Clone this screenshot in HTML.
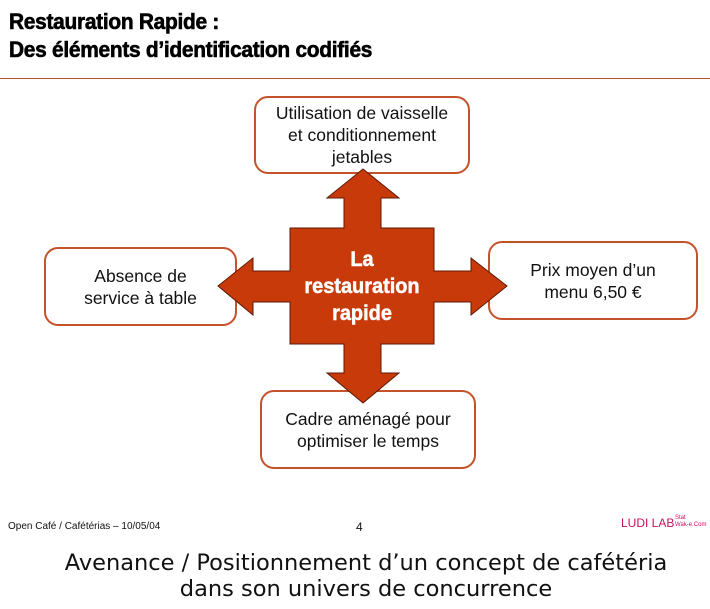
<!DOCTYPE html>
<html><head><meta charset="utf-8"><style>
html,body{margin:0;padding:0;background:#fff}
body{width:710px;height:609px;position:relative;overflow:hidden;font-family:"Liberation Sans",sans-serif}
.t{position:absolute;left:9px;font-weight:bold;font-size:22px;color:#000;transform-origin:0 0;transform:scaleX(0.95);white-space:nowrap;letter-spacing:-0.3px;-webkit-text-stroke:0.6px #000}
.box{position:absolute;border:2px solid #c4532c;border-radius:14px;background:#fff;display:flex;align-items:center;justify-content:center;text-align:center;font-size:17.5px;line-height:22px;color:#111;box-sizing:border-box}
</style></head><body>
<div class="t" style="top:9px">Restauration Rapide :</div>
<div class="t" style="top:37px">Des éléments d’identification codifiés</div>
<div style="position:absolute;left:0;top:78px;width:710px;height:1px;background:#b05030"></div>

<div class="box" style="left:254px;top:96px;width:216px;height:78px">Utilisation de vaisselle<br>et conditionnement<br>jetables</div>
<div class="box" style="left:44px;top:247px;width:193px;height:79px">Absence de<br>service à table</div>
<div class="box" style="left:488px;top:241px;width:210px;height:79px">Prix moyen d’un<br>menu 6,50 €</div>
<div class="box" style="left:260px;top:390px;width:216px;height:79px">Cadre aménagé pour<br>optimiser le temps</div>

<svg style="position:absolute;left:0;top:0" width="710" height="609">
<polygon fill="#c83a0a" stroke="#5a1a05" stroke-width="1" points="363,169 399,198 381,198 381,228 434,228 434,271 471,271 471,258 507,286 471,315 471,302 434,302 434,344 381,344 381,373 399,373 363,403 327,373 344,373 344,344 290,344 290,302 253,302 253,315 218,286 253,258 253,271 290,271 290,228 344,228 344,198 327,198"/>
<g font-family="Liberation Sans" font-weight="bold" font-size="21" fill="#fff" stroke="#fff" stroke-width="0.5" text-anchor="middle" transform="translate(362 0) scale(0.95 1) translate(-362 0)">
<text x="362" y="266">La</text>
<text x="362" y="293">restauration</text>
<text x="362" y="320">rapide</text>
</g>
</svg>

<div style="position:absolute;left:8px;top:521px;font-size:10px;color:#111">Open Café / Cafétérias – 10/05/04</div>
<div style="position:absolute;left:356px;top:520px;font-size:12px;color:#111">4</div>
<div style="position:absolute;left:621px;top:516px;font-size:12px;color:#cc1060">LUDI LAB</div>
<div style="position:absolute;left:675px;top:515px;font-size:6px;line-height:7px;color:#cc1060">Stat<br>Wak-e.Com</div>
<div style="position:absolute;left:0;width:732px;top:550px;text-align:center;font-family:'DejaVu Sans',sans-serif;font-size:22.5px;line-height:26px;color:#111">Avenance / Positionnement d’un concept de cafétéria<br>dans son univers de concurrence</div>
</body></html>
